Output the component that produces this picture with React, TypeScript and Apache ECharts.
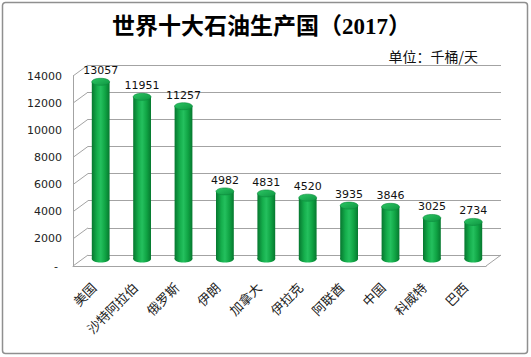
import React, { useEffect, useRef } from "react";
import * as echarts from "echarts";

const categories = ["美国", "沙特阿拉伯", "俄罗斯", "伊朗", "加拿大", "伊拉克", "阿联酋", "中国", "科威特", "巴西"];
const production = [13057, 11951, 11257, 4982, 4831, 4520, 3935, 3846, 3025, 2734];
const yTicks = [0, 2000, 4000, 6000, 8000, 10000, 12000, 14000];
const titleText = "世界十大石油生产国（2017）";
const unitText = "单位：千桶/天";

const Y_MAX = 14000;
const Y_STEP = 2000;
const DEPTH_DX = 15;
const DEPTH_DY = 11;
const GRID_LINE = "#a3a3a3";

export default function App() {
  const ref = useRef<HTMLDivElement>(null);

  useEffect(() => {
    document.body.style.margin = "0";
    const chart = echarts.init(ref.current!, null, { renderer: "svg" });

    const bodyGrad = new echarts.graphic.LinearGradient(0, 0, 1, 0, [
      { offset: 0, color: "#06772f" },
      { offset: 0.3, color: "#15ae4c" },
      { offset: 0.5, color: "#24c05e" },
      { offset: 0.75, color: "#10a444" },
      { offset: 1, color: "#06782f" },
    ]);
    const topGrad = new echarts.graphic.LinearGradient(0, 0, 1, 1, [
      { offset: 0, color: "#2cc664" },
      { offset: 1, color: "#0e9641" },
    ]);

    const yBase = (show: boolean, gridIndex: number) => ({
      type: "value",
      gridIndex,
      min: 0,
      max: Y_MAX,
      interval: Y_STEP,
      show,
    });

    chart.setOption({
      animation: false,
      backgroundColor: "#ffffff",
      title: [
        {
          text: titleText,
          left: 107,
          top: 10,
          textStyle: {
            fontFamily: "'Liberation Serif', 'Noto Sans CJK SC', serif",
            fontWeight: "bold",
            fontSize: 23,
            color: "#000",
          },
        },
        {
          text: unitText,
          right: 48,
          top: 44,
          textStyle: {
            fontFamily: "'Noto Sans CJK SC', sans-serif",
            fontWeight: "normal",
            fontSize: 14,
            color: "#111",
          },
        },
      ],
      graphic: [
        {
          type: "rect",
          shape: { x: 2.5, y: 2.5, width: 525, height: 351, r: 3 },
          style: { fill: "none", stroke: "#8f8f8f", lineWidth: 1.5 },
          silent: true,
        },
      ],
      grid: [
        // front plane (axis labels)
        { left: 73, right: 45, top: 76, bottom: 91 },
        // middle plane (cylinders)
        { left: 80, right: 37, top: 69, bottom: 98 },
        // back wall (gridlines)
        { left: 88, right: 30, top: 65, bottom: 102 },
      ],
      xAxis: [
        {
          type: "category",
          gridIndex: 0,
          data: categories,
          axisLine: { show: true, lineStyle: { color: GRID_LINE, width: 1 } },
          axisTick: { show: false },
          axisLabel: {
            interval: 0,
            rotate: 45,
            margin: 19,
            fontSize: 13,
            fontFamily: "'Noto Sans CJK SC', serif",
            color: "#222",
          },
        },
        { type: "category", gridIndex: 1, data: categories, show: false },
        { type: "category", gridIndex: 2, data: categories, show: false },
      ],
      yAxis: [
        {
          ...yBase(true, 0),
          axisLine: { show: true, lineStyle: { color: GRID_LINE, width: 1 } },
          axisTick: { show: false },
          splitLine: { show: false },
          axisLabel: {
            margin: 11,
            fontSize: 11,
            fontFamily: "'DejaVu Sans', sans-serif",
            color: "#222",
            formatter: (v: number) => (v === 0 ? "{d|-}" : String(v)),
            rich: { d: { padding: [0, 4, 0, 0], fontSize: 11, color: "#222" } },
          },
        },
        yBase(false, 1),
        {
          ...yBase(true, 2),
          axisLine: { show: false },
          axisTick: { show: false },
          axisLabel: { show: false },
          splitLine: { show: true, lineStyle: { color: GRID_LINE, width: 1 } },
        },
      ],
      series: [
        {
          type: "custom",
          name: "frame",
          xAxisIndex: 2,
          yAxisIndex: 2,
          silent: true,
          data: yTicks.map((v) => [0, v]),
          encode: { x: 0, y: 1 },
          renderItem: (params: any, api: any) => {
            const v = api.value(1);
            const cs = params.coordSys;
            const y = api.coord([0, v])[1];
            const children: any[] = [
              {
                type: "line",
                shape: { x1: cs.x, y1: y, x2: cs.x - DEPTH_DX, y2: y + DEPTH_DY },
                style: { stroke: GRID_LINE, lineWidth: 1 },
              },
            ];
            if (v === 0) {
              const xr = cs.x + cs.width;
              children.push({
                type: "line",
                shape: { x1: xr, y1: y, x2: xr - DEPTH_DX, y2: y + DEPTH_DY },
                style: { stroke: GRID_LINE, lineWidth: 1 },
              });
            }
            return { type: "group", children };
          },
          z: 1,
        },
        {
          type: "custom",
          name: "产量",
          xAxisIndex: 1,
          yAxisIndex: 1,
          data: production.map((v, i) => [i, v]),
          encode: { x: 0, y: 1 },
          renderItem: (params: any, api: any) => {
            const xi = api.value(0);
            const v = api.value(1);
            const top = api.coord([xi, v]);
            const base = api.coord([xi, 0]);
            const w = api.size([1, 0])[0] * 0.43;
            const rx = w / 2;
            const ry = 3.5;
            return {
              type: "group",
              children: [
                {
                  type: "ellipse",
                  shape: { cx: base[0], cy: base[1], rx, ry },
                  style: { fill: bodyGrad },
                },
                {
                  type: "rect",
                  shape: { x: top[0] - rx, y: top[1], width: w, height: base[1] - top[1] },
                  style: { fill: bodyGrad },
                },
                {
                  type: "ellipse",
                  shape: { cx: top[0], cy: top[1], rx, ry },
                  style: { fill: topGrad, stroke: "#0b8a3c", lineWidth: 0.6 },
                },
                {
                  type: "text",
                  x: top[0],
                  y: top[1] - ry - 2,
                  style: {
                    text: String(v),
                    textAlign: "center",
                    textVerticalAlign: "bottom",
                    fontSize: 11,
                    fontFamily: "'DejaVu Sans', sans-serif",
                    fill: "#111",
                  },
                },
              ],
            };
          },
          z: 3,
        },
      ],
    });

    return () => chart.dispose();
  }, []);

  return <div ref={ref} style={{ width: 531, height: 357 }} />;
}
